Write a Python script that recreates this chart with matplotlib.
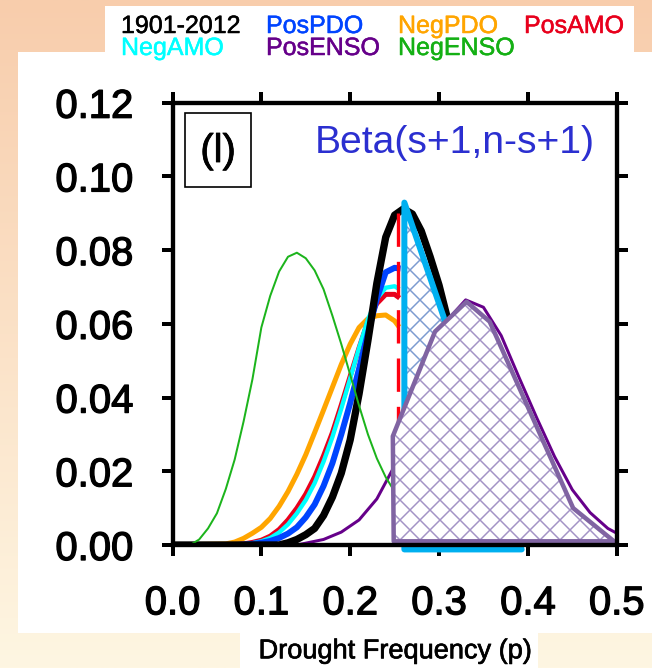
import numpy as np
import matplotlib
matplotlib.use('Agg')
import matplotlib.pyplot as plt
import matplotlib.patheffects as pe
from matplotlib.patches import Polygon, Rectangle
from matplotlib.ticker import FormatStrFormatter

plt.rcParams['font.family'] = ['Liberation Sans', 'DejaVu Sans']
plt.rcParams['hatch.linewidth'] = 0.9

W, H, DPI = 652, 668, 120

# ------------ data -----------------------------------
# 1901-2012 (full curve)
p_all = [0.00, 0.12, 0.13, 0.14, 0.15, 0.16, 0.17, 0.18, 0.19, 0.20, 0.21,
         0.22, 0.23, 0.24, 0.25, 0.26, 0.27, 0.28, 0.29, 0.30, 0.31, 0.32,
         0.33, 0.34, 0.35, 0.36, 0.37, 0.38, 0.39, 0.40, 0.42, 0.45, 0.50]
clim_all = [0.0, 0.0, 0.0006, 0.0015, 0.0028, 0.0045, 0.0080, 0.0130, 0.0195,
            0.0285, 0.0410, 0.0555, 0.0710, 0.0835, 0.0895, 0.0912, 0.0898,
            0.0852, 0.0782, 0.0705, 0.0610, 0.0510, 0.0410, 0.0320, 0.0240,
            0.0170, 0.0115, 0.0075, 0.0047, 0.0028, 0.0009, 0.0002, 0.0]

# curves that stop at the red dashed line
p_low = [0.00, 0.06, 0.07, 0.08, 0.09, 0.10, 0.11, 0.12, 0.13, 0.14, 0.15,
         0.16, 0.17, 0.18, 0.19, 0.20, 0.21, 0.22, 0.23, 0.24, 0.25, 0.2534]
neg_pdo = [0.0, 0.0003, 0.0008, 0.0018, 0.0032, 0.0048, 0.0072, 0.0105, 0.0145,
           0.0192, 0.0245, 0.0305, 0.0366, 0.0428, 0.0490, 0.0545, 0.0590,
           0.0614, 0.0622, 0.0624, 0.0608, 0.0597]
pos_amo = [0.0, 0.0, 0.0, 0.0003, 0.0007, 0.0013, 0.0024, 0.0042, 0.0068,
           0.0100, 0.0138, 0.0185, 0.0242, 0.0305, 0.0380, 0.0458, 0.0535,
           0.0607, 0.0655, 0.0680, 0.0680, 0.0674]
neg_amo = [0.0, 0.0, 0.0, 0.0002, 0.0005, 0.0010, 0.0019, 0.0034, 0.0056,
           0.0086, 0.0122, 0.0168, 0.0226, 0.0293, 0.0370, 0.0452, 0.0535,
           0.0612, 0.0668, 0.0698, 0.0702, 0.0697]
pos_pdo = [0.0, 0.0, 0.0, 0.0001, 0.0003, 0.0006, 0.0011, 0.0019, 0.0031,
           0.0048, 0.0075, 0.0110, 0.0160, 0.0222, 0.0300, 0.0385, 0.0478,
           0.0575, 0.0668, 0.0740, 0.0752, 0.0751]

# NegENSO
p_green = [0.00, 0.02, 0.03, 0.04, 0.05, 0.06, 0.07, 0.08, 0.09, 0.10, 0.11,
           0.12, 0.13, 0.14, 0.15, 0.16, 0.17, 0.18, 0.19, 0.20, 0.21, 0.22,
           0.23, 0.24, 0.25, 0.27, 0.30, 0.35, 0.40, 0.50]
neg_enso = [0.0, 0.0, 0.0015, 0.0045, 0.0086, 0.0152, 0.0232, 0.0335, 0.0450,
            0.0590, 0.0676, 0.0742, 0.0782, 0.0793, 0.0778, 0.0745, 0.0694,
            0.0622, 0.0545, 0.0462, 0.0378, 0.0300, 0.0235, 0.0184, 0.0145,
            0.0080, 0.0030, 0.0004, 0.0, 0.0]

# PosENSO
p_purple = [0.00, 0.14, 0.15, 0.17, 0.19, 0.21, 0.23, 0.25, 0.27, 0.29, 0.31,
            0.33, 0.35, 0.37, 0.39, 0.41, 0.43, 0.45, 0.47, 0.49, 0.50]
pos_enso = [0.0, 0.0, 0.0005, 0.0015, 0.0035, 0.0068, 0.0125, 0.0215, 0.0350,
            0.0490, 0.0612, 0.0665, 0.0645, 0.0568, 0.0455, 0.0345, 0.0240,
            0.0150, 0.0088, 0.0045, 0.0032]

# red dashed cut and the two hatched tails
cut_p = 0.2534
cut_top = 0.090
tail_all_p = [0.261, 0.261, 0.305, 0.340, 0.370, 0.393]
tail_all_v = [-0.0012, 0.0929, 0.0620, 0.0330, 0.0120, -0.0012]
tail_enso_p = [0.249, 0.248, 0.2955, 0.331, 0.357, 0.451, 0.497]
tail_enso_v = [0.0010, 0.0295, 0.0579, 0.0660, 0.0606, 0.0100, 0.0010]

legend_names = [['1901-2012', 'PosPDO', 'NegPDO', 'PosAMO'],
                ['NegAMO', 'PosENSO', 'NegENSO']]
legend_colors = [['black', '#0044ff', '#ffa500', '#e8001c'],
                 ['#00ffff', '#66008a', '#14b014']]


def fx(x):
    return x / W


def fy(y):
    return 1 - y / H


def heavy(color, w=0.8):
    # the original text is a bit heavier than plain Arial
    return [pe.withStroke(linewidth=w, foreground=color)]


fig = plt.figure(figsize=(W / DPI, H / DPI), dpi=DPI)

# ------------ background ---------------
bg = fig.add_axes([0, 0, 1, 1], zorder=-5)
top = np.array([248, 205, 172]) / 255
bot = np.array([254, 246, 226]) / 255
t = np.linspace(0, 1, 256)[:, None, None]
bg.imshow(top * (1 - t) + bot * t, aspect='auto', extent=[0, 1, 0, 1])
bg.set_xlim(0, 1)
bg.set_ylim(0, 1)
bg.axis('off')
bg.add_patch(Rectangle((fx(105), fy(52)), fx(634) - fx(105), fy(6) - fy(52),
                       fc='white', ec='none'))
bg.add_patch(Rectangle((fx(17.5), fy(633)), 1 - fx(17.5), fy(52) - fy(633),
                       fc='white', ec='none'))
bg.add_patch(Rectangle((fx(240), 0), fx(538) - fx(240), fy(630),
                       fc='white', ec='none'))

# ------------ main axes ---------------
ax = fig.add_axes([fx(172.5), fy(545), fx(616.7) - fx(172.5), fy(102.7) - fy(545)])
ax.set_facecolor('none')

ax.plot(p_low, neg_pdo, color='#ffa500', lw=3.0, zorder=3)
ax.plot(p_low, pos_amo, color='#e8001c', lw=3.0, zorder=3)
ax.plot(p_low, neg_amo, color='#00ffff', lw=2.6, zorder=3)
ax.plot(p_low, pos_pdo, color='#0044ff', lw=3.6, zorder=3)
ax.plot(p_all, clim_all, color='black', lw=4.4, zorder=3.5)
ax.plot(p_purple, pos_enso, color='#66008a', lw=1.8, zorder=3.6)
ax.plot(p_green, neg_enso, color='#1cb41c', lw=1.2, zorder=3.7)
ax.plot([cut_p, cut_p], [cut_top, 0], color='#ff0010', lw=2.0,
        ls=(0, (10, 4.5)), zorder=4)

xy_all = np.column_stack([tail_all_p, tail_all_v])
ax.add_patch(Polygon(xy_all, closed=True, fc='white', ec='#7c9bd0', hatch='xx',
                     lw=0, zorder=5))
ax.add_patch(Polygon(xy_all, closed=True, fill=False, ec='#00b0f0', lw=3.6,
                     joinstyle='round', zorder=5.1, clip_on=False))

xy_enso = np.column_stack([tail_enso_p, tail_enso_v])
ax.add_patch(Polygon(xy_enso, closed=True, fc='white', ec='#a393c6', hatch='xx',
                     lw=0, zorder=6))
ax.add_patch(Polygon(xy_enso, closed=True, fill=False, ec='#8064a2', lw=2.7,
                     joinstyle='round', zorder=6.1, clip_on=False))

ax.set_xlim(0, 0.5)
ax.set_ylim(0, 0.12)
ax.set_xticks([0.0, 0.1, 0.2, 0.3, 0.4, 0.5])
ax.set_yticks([0.0, 0.02, 0.04, 0.06, 0.08, 0.10, 0.12])
ax.xaxis.set_major_formatter(FormatStrFormatter('%.1f'))
ax.yaxis.set_major_formatter(FormatStrFormatter('%.2f'))
ax.tick_params(direction='out', length=6.6, width=2.4, labelsize=24, pad=17,
               top=True, right=True, labeltop=False, labelright=False)
for lab in ax.get_xticklabels() + ax.get_yticklabels():
    lab.set_path_effects(heavy('black', 0.8))
for s in ax.spines.values():
    s.set_linewidth(2.6)
    s.set_zorder(10)

# panel tag and formula
ax.add_patch(Rectangle((0.0281, 0.8087), 0.148, 0.1687, transform=ax.transAxes,
                       fill=False, ec='black', lw=1.0, zorder=11))
fig.text(fx(218), fy(162), '(l)', ha='center', va='baseline', fontsize=24,
         path_effects=heavy('black', 0.5))
fig.text(fx(315), fy(153.3), 'Beta(s+1,n-s+1)', color='#2b2fd0',
         fontsize=23.5, va='baseline')

fig.text(fx(395), fy(658.3), 'Drought Frequency (p)', ha='center',
         va='baseline', fontsize=16.3, path_effects=heavy('black', 0.4))

# legend as coloured words
row_y = [33, 55]
col_x = [121, 266, 398, 524]
for r, names in enumerate(legend_names):
    for c, name in enumerate(names):
        col = legend_colors[r][c]
        fig.text(fx(col_x[c]), fy(row_y[r]), name, color=col,
                 fontsize=15, va='baseline', ha='left',
                 path_effects=heavy(col, 0.3))

fig.savefig('out.png', dpi=DPI)
